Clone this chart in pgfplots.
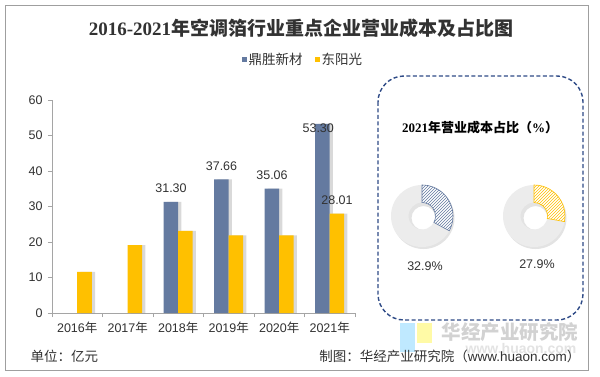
\documentclass[border=0pt]{standalone}
\usepackage{pgfplots}
\pgfplotsset{compat=1.18}
\usepackage{fontspec}
\setmainfont{Liberation Sans}
\newfontfamily\cjk{Noto Sans CJK SC}
\newfontfamily\serifb{Liberation Serif}
\usetikzlibrary{patterns}
\definecolor{barblue}{RGB}{100,122,160}
\definecolor{baryel}{RGB}{255,192,0}
\definecolor{axgray}{RGB}{165,165,165}
\definecolor{txt}{RGB}{50,50,50}
\definecolor{dashblue}{RGB}{47,75,135}
\definecolor{ring}{RGB}{236,236,236}
\newcommand\nian{{\cjk 年}}
\newcommand\fs[1]{\fontsize{#1}{#1}\selectfont}
\pgfplotstableread{
x blue
2 31.30
3 37.66
4 35.06
5 53.30
}\bluedata
\pgfplotstableread{
x yel
0 11.6
1 19.1
2 23.1
3 21.9
4 21.9
5 28.01
}\yeldata
\def\pctA{32.9}
\def\pctB{27.9}
\begin{document}
\begin{tikzpicture}
\begin{scope}[x=1pt,y=-1pt]
\path[use as bounding box] (0,0) rectangle (600,377);
\fill[white] (0,0) rectangle (600,377);
\draw[gray!75, line width=0.9pt] (5.5,5.5) rectangle (588.5,370);
% title
\node[text=txt] at (301,28) {\fs{19}{\serifb\bfseries 2016-2021}{\cjk\bfseries 年空调箔行业重点企业营业成本及占比图}};
% watermark
\fill[blue!35!cyan!25!white] (400,323) rectangle (415,352);
\fill[yellow!35!white] (417,323) rectangle (432,343);
\node[text=gray!35] at (510,332) {\fs{19.5}\cjk\bfseries 华经产业研究院};
\node[text=gray!22] at (521,348) {\fs{14}\bfseries www.huaon.com};
% footer
\node[anchor=west, text=txt] at (27,356.5) {\fs{13.5}\cjk 单位：亿元};
\node[anchor=east, text=txt] at (584,356.5) {\fs{13.5}{\cjk 制图：华经产业研究院（}www.huaon.com{\cjk ）}};
% right panel
\draw[dashblue, line width=1.4pt, dash pattern=on 4pt off 2.5pt, rounded corners=26pt] (378,76) rectangle (583,320);
\node[text=black] at (480,128) {\fs{13}{\serifb\bfseries 2021}{\cjk\bfseries 年营业成本占比（}{\serifb\bfseries\%}{\cjk\bfseries ）}};
\node[text=txt] at (425,266) {\fs{12.5}\pctA\%};
\node[text=txt] at (537,264) {\fs{12.5}\pctB\%};
\end{scope}
% donuts
\foreach \cx/\pc/\col in {422/\pctA/barblue, 534/\pctB/baryel}{
  \fill[gray!22, even odd rule] (\cx pt+1.5pt,-218pt) circle[radius=31pt] (\cx pt+1.5pt,-218pt) circle[radius=12pt];
  \fill[ring, even odd rule] (\cx pt,-216pt) circle[radius=31pt] (\cx pt,-216pt) circle[radius=13.5pt];
  \pgfmathsetmacro\ea{90-3.6*\pc}
  \fill[white] ([shift={(90:31pt)}]\cx pt,-216pt) arc[start angle=90, end angle=\ea, radius=31pt] -- ([shift={(\ea:13.5pt)}]\cx pt,-216pt) arc[start angle=\ea, end angle=90, radius=13.5pt] -- cycle;
  \path[pattern=north east lines, pattern color=\col, draw=\col, line width=0.6pt] ([shift={(90:31pt)}]\cx pt,-216pt) arc[start angle=90, end angle=\ea, radius=31pt] -- ([shift={(\ea:13.5pt)}]\cx pt,-216pt) arc[start angle=\ea, end angle=90, radius=13.5pt] -- cycle;
}
\begin{axis}[
  at={(52pt,-313pt)}, anchor=south west,
  scale only axis, width=303pt, height=213pt,
  xmin=-0.5, xmax=5.5, ymin=0, ymax=60,
  axis x line*=bottom, axis y line*=left,
  axis line style={draw=axgray, line width=0.7pt},
  xtick={-0.5,0.5,...,5.5},
  xticklabels={,,,,,,,},
  extra x ticks={0,1,2,3,4,5},
  extra x tick labels={2016\nian,2017\nian,2018\nian,2019\nian,2020\nian,2021\nian},
  extra x tick style={major tick length=0pt},
  x tick label style={yshift=-5pt},
  ytick={0,10,...,60},
  y tick label style={xshift=-2pt},
  major tick length=4pt,
  tick align=outside,
  tick style={draw=axgray, line width=0.7pt},
  ticklabel style={font=\fs{12.5}, text=txt},
  /pgf/number format/assume math mode=true,
  legend style={at={(0.828,1.188)}, anchor=center, draw=none, fill=none,
    legend columns=2, font=\fs{13.5}\cjk, text=txt,
    /tikz/every even column/.append style={column sep=11pt},
    nodes={inner sep=1.5pt}},
  clip=false,
]
\addplot[ybar, bar width=14.5pt, bar shift=-4pt, fill=black, fill opacity=0.15, draw=none, forget plot] table[x=x,y=blue] {\bluedata};
\addplot[ybar, bar width=14.5pt, bar shift=10.5pt, fill=black, fill opacity=0.15, draw=none, forget plot] table[x=x,y=yel] {\yeldata};
\addplot[ybar, bar width=14.5pt, bar shift=-7.25pt, fill=barblue, draw=none,
  legend image code/.code={\fill[barblue] (0pt,-2.5pt) rectangle (5pt,2.5pt);}] table[x=x,y=blue] {\bluedata};
\addlegendentry{鼎胜新材}
\addplot[ybar, bar width=14.5pt, bar shift=7.25pt, fill=baryel, draw=none,
  legend image code/.code={\fill[baryel] (0pt,-2.5pt) rectangle (5pt,2.5pt);}] table[x=x,y=yel] {\yeldata};
\addlegendentry{东阳光}
\node[anchor=base, text=txt, font=\fs{12.5}] at ([xshift=-7.25pt,yshift=9pt]axis cs:2,31.30) {31.30};
\node[anchor=base, text=txt, font=\fs{12.5}] at ([xshift=-7.25pt,yshift=9pt]axis cs:3,37.66) {37.66};
\node[anchor=base, text=txt, font=\fs{12.5}] at ([xshift=-7.25pt,yshift=9pt]axis cs:4,35.06) {35.06};
\node[anchor=base, text=txt, font=\fs{12.5}] at ([xshift=-11.5pt,yshift=-8.5pt]axis cs:5,53.30) {53.30};
\node[anchor=base, text=txt, font=\fs{12.5}] at ([xshift=7.25pt,yshift=9pt]axis cs:5,28.01) {28.01};
\end{axis}
\end{tikzpicture}
\end{document}
